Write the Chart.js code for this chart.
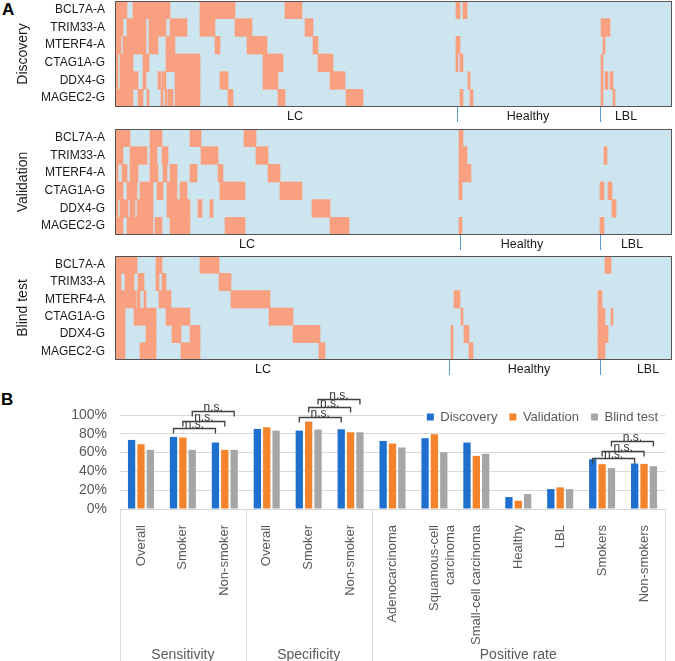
<!DOCTYPE html>
<html><head><meta charset="utf-8">
<script src="https://cdn.jsdelivr.net/npm/chart.js@4.4.1/dist/chart.umd.min.js"></script>
<style>
html,body{margin:0;padding:0;background:#fff;}
body{width:675px;height:661px;position:relative;overflow:hidden;font-family:"Liberation Sans",Arial,sans-serif;}
canvas{position:absolute;left:0;}
.panel{position:absolute;font-weight:bold;font-size:17px;line-height:17px;color:#000;}
</style></head><body>
<div class="panel" style="left:2px;top:1px">A</div>
<div class="panel" style="left:1px;top:391px">B</div>
<canvas id="h0" width="675" height="130" style="top:0"></canvas>
<canvas id="h1" width="675" height="130" style="top:125px"></canvas>
<canvas id="h2" width="675" height="130" style="top:250px"></canvas>
<canvas id="bars" width="675" height="286" style="top:375px"></canvas>
<script>
// ---------- Panel A data ----------
const genes = ['BCL7A-A', 'TRIM33-A', 'MTERF4-A', 'CTAG1A-G', 'DDX4-G', 'MAGEC2-G'];
const cohorts = ['Discovery', 'Validation', 'Blind test'];
const sampleGroups = ['LC', 'Healthy', 'LBL'];
const sampleCount = 557;
// positive (salmon) sample ranges per gene, in sample order
const discoveryPositive = [
  [[0,12],[18,55],[85,120],[170,187],[341,345],[348,352]],
  [[0,8],[12,31],[34,51],[55,72],[85,100],[120,137],[190,198],[486,495]],
  [[0,6],[8,31],[34,43],[51,60],[100,105],[132,152],[198,203],[341,345],[488,490]],
  [[0,3],[5,18],[28,34],[51,77],[77,85],[148,168],[203,218],[341,343],[345,348],[486,488]],
  [[0,3],[5,23],[28,31],[43,46],[47,51],[60,85],[105,113],[148,163],[215,230],[353,355],[486,488],[490,493],[495,498]],
  [[0,18],[23,28],[32,34],[46,48],[50,52],[53,58],[60,85],[113,118],[163,170],[231,248],[345,348],[355,358],[486,488],[498,500]]
];
const validationPositive = [
  [[0,15],[35,47],[75,86],[129,141],[344,348]],
  [[0,8],[15,32],[35,42],[47,53],[86,103],[141,153],[344,352],[489,492]],
  [[0,3],[7,12],[15,23],[35,43],[48,52],[55,62],[75,82],[103,108],[153,165],[344,356]],
  [[0,8],[12,22],[25,38],[42,48],[52,62],[65,72],[105,130],[165,187],[344,347],[485,489],[493,497]],
  [[0,3],[5,13],[15,20],[22,38],[52,75],[83,87],[95,98],[197,215],[497,501]],
  [[0,8],[12,38],[40,47],[55,75],[110,130],[215,234],[344,347],[485,489]]
];
const blindPositive = [
  [[0,22],[41,47],[85,104],[490,496]],
  [[0,6],[10,19],[23,29],[41,44],[47,51],[104,116]],
  [[0,21],[22,25],[29,31],[44,56],[116,155],[339,345],[483,487]],
  [[0,10],[19,41],[51,75],[154,178],[346,348],[483,490],[496,498]],
  [[0,10],[31,41],[57,66],[75,85],[178,205],[336,338],[349,354],[483,493]],
  [[0,10],[25,41],[66,85],[204,210],[336,338],[354,358],[483,490]]
];
// sample group boundaries (end of LC, end of Healthy, end of LBL)
const discoveryBounds = [342, 485, 557];
const validationBounds = [345, 485, 557];
const blindBounds = [334, 485, 557];
// where each group name sits along the sample axis
const discoveryLabelAt = [180, 413, 511];
const validationLabelAt = [132, 407, 517];
const blindLabelAt = [148, 414, 533];

// ---------- Panel B data ----------
const barCategories = ['Overall', 'Smoker', 'Non-smoker', 'Overall', 'Smoker', 'Non-smoker',
  'Adenocarcinoma', ['Squamous-cell', 'carcinoma'], 'Small-cell carcinoma', 'Healthy', 'LBL', 'Smokers', 'Non-smokers'];
const metricGroups = ['Sensitivity', 'Specificity', 'Positive rate'];
const metricGroupSizes = [3, 3, 7];
const seriesNames = ['Discovery', 'Validation', 'Blind test'];
const discoveryRates  = [73.5, 76.7, 70.7, 85.2, 83.4, 84.8, 72.4, 75.3, 70.7, 12.7, 21.2, 53.0, 48.4];
const validationRates = [68.9, 76.0, 62.9, 86.9, 92.9, 81.6, 69.6, 79.5, 56.5, 8.8, 23.0, 47.7, 48.0];
const blindRates      = [62.9, 62.9, 62.9, 83.4, 84.5, 81.6, 65.4, 60.4, 58.7, 15.9, 21.2, 43.5, 45.6];
const yTickValues = [0, 20, 40, 60, 80, 100];
// n.s. comparisons: [category A, series, category B, bracket height (%)]
const sigBrackets = [
  [1, 0, 2, 86], [1, 1, 2, 94], [1, 2, 2, 104],
  [4, 0, 5, 98], [4, 1, 5, 108], [4, 2, 5, 117],
  [11, 0, 12, 54], [11, 1, 12, 62], [11, 2, 12, 72]
];

// ---------- styles ----------
const FONT = '"Liberation Sans", Arial, sans-serif';
const SALMON = '#f8a07f';
const HEAT_BG = '#cde5ef';
const TICK_BLUE = '#5b9bd5';
const BLUE = '#1f6fcf', ORANGE = '#f5832b', GRAY = '#a6a6a6';
const TXT = '#595959';

const heatDecor = {
  id: 'heatDecor',
  beforeDatasetsDraw(chart) {
    const {ctx, chartArea: a} = chart;
    ctx.save();
    ctx.fillStyle = HEAT_BG;
    ctx.fillRect(a.left, a.top, a.right - a.left, a.bottom - a.top);
    ctx.restore();
  },
  afterDatasetsDraw(chart, args, opts) {
    const {ctx, chartArea: a} = chart;
    const x = chart.scales.x;
    ctx.save();
    ctx.strokeStyle = '#555';
    ctx.lineWidth = 1;
    ctx.strokeRect(a.left + 0.5, a.top + 0.5, a.right - a.left - 1, a.bottom - a.top - 1);
    ctx.strokeStyle = TICK_BLUE;
    opts.bounds.slice(0, -1).forEach(b => {
      const px = Math.round(x.getPixelForValue(b)) + 0.5;
      ctx.beginPath(); ctx.moveTo(px, a.bottom); ctx.lineTo(px, a.bottom + 15); ctx.stroke();
    });
    ctx.fillStyle = '#1a1a1a';
    ctx.font = '12.5px ' + FONT;
    ctx.textAlign = 'center'; ctx.textBaseline = 'middle';
    opts.groups.forEach((g, i) => ctx.fillText(g, x.getPixelForValue(opts.labelAt[i]), a.bottom + 10));
    ctx.restore();
  }
};

function heatmap(id, title, positive, bounds, labelAt, padTop, padBottom) {
  const data = [];
  positive.forEach((segs, r) => segs.forEach(s => data.push({y: genes[r], x: s})));
  return new Chart(document.getElementById(id), {
    type: 'bar',
    data: {labels: genes, datasets: [{data, backgroundColor: SALMON, borderWidth: 0,
      barPercentage: 1, categoryPercentage: 1}]},
    options: {
      indexAxis: 'y', responsive: false, animation: false,
      layout: {padding: {top: padTop, bottom: padBottom, right: 3, left: 0}},
      plugins: {legend: {display: false}, tooltip: {enabled: false},
        heatDecor: {bounds, labelAt, groups: sampleGroups}},
      scales: {
        x: {type: 'linear', min: 0, max: sampleCount, display: false},
        y: {type: 'category', grid: {display: false, drawTicks: false}, border: {display: false},
          ticks: {padding: 10, autoSkip: false, color: '#1a1a1a', font: {size: 12, family: FONT}},
          title: {display: true, text: title, color: '#1a1a1a', font: {size: 14, family: FONT}, padding: {top: 15, bottom: 0}},
          afterFit: s => { s.width = 115; s.paddingTop = 0; s.paddingBottom = 0; }}
      }
    },
    plugins: [heatDecor]
  });
}

heatmap('h0', cohorts[0], discoveryPositive, discoveryBounds, discoveryLabelAt, 1, 23);
heatmap('h1', cohorts[1], validationPositive, validationBounds, validationLabelAt, 4, 20);
heatmap('h2', cohorts[2], blindPositive, blindBounds, blindLabelAt, 6, 20);

const barDecor = {
  id: 'barDecor',
  afterLayout(chart) {
    const lg = chart.legend;
    if (lg) { lg.top += 18.5; lg.bottom += 18.5; lg.left += 5; lg.right += 5; }
  },
  beforeDatasetsDraw(chart) {
    const lg = chart.legend;
    if (lg && lg.legendHitBoxes && lg.legendHitBoxes.length) {
      const hb = lg.legendHitBoxes;
      const ctx = chart.ctx;
      ctx.save();
      ctx.fillStyle = '#fff';
      const l = hb[0].left - 3, r = hb[hb.length - 1].left + hb[hb.length - 1].width + 3;
      ctx.fillRect(l, hb[0].top - 1, r - l, hb[0].height + 2);
      ctx.restore();
      lg.draw();
    }
  },
  afterDraw(chart) {
    const {ctx, chartArea: a} = chart;
    const x = chart.scales.x, y = chart.scales.y;
    const half = (x.getPixelForValue(1) - x.getPixelForValue(0)) / 2;
    ctx.save();
    // group separators
    ctx.strokeStyle = '#d9d9d9'; ctx.lineWidth = 1;
    let idx = 0;
    const edges = [0];
    metricGroupSizes.forEach(n => { idx += n; edges.push(idx); });
    edges.forEach(e => {
      const px = Math.round(x.getPixelForValue(e) - half) + 0.5;
      ctx.beginPath(); ctx.moveTo(px, a.bottom); ctx.lineTo(px, chart.height); ctx.stroke();
    });
    // group labels
    ctx.fillStyle = TXT; ctx.font = '14px ' + FONT; ctx.textAlign = 'center'; ctx.textBaseline = 'middle';
    metricGroups.forEach((g, i) => {
      const c = (x.getPixelForValue(edges[i]) + x.getPixelForValue(edges[i + 1])) / 2 - half;
      ctx.fillText(g, c, a.bottom + 146);
    });
    // n.s. brackets
    ctx.strokeStyle = '#404040'; ctx.lineWidth = 1.3; ctx.fillStyle = '#333';
    ctx.font = '12px ' + FONT; ctx.textBaseline = 'alphabetic';
    sigBrackets.forEach(([c1, ds, c2, v]) => {
      const meta = chart.getDatasetMeta(ds);
      const x1 = meta.data[c1].x, x2 = meta.data[c2].x;
      const py = Math.round(y.getPixelForValue(v)) + 0.5;
      ctx.beginPath(); ctx.moveTo(x1, py + 5); ctx.lineTo(x1, py); ctx.lineTo(x2, py); ctx.lineTo(x2, py + 5); ctx.stroke();
      ctx.fillText('n.s.', (x1 + x2) / 2, py - 1);
    });
    ctx.restore();
  }
};

new Chart(document.getElementById('bars'), {
  type: 'bar',
  data: {labels: barCategories, datasets: [
    {label: seriesNames[0], data: discoveryRates, backgroundColor: BLUE},
    {label: seriesNames[1], data: validationRates, backgroundColor: ORANGE},
    {label: seriesNames[2], data: blindRates, backgroundColor: GRAY}
  ]},
  options: {
    responsive: false, animation: false,
    datasets: {bar: {categoryPercentage: 0.67, barPercentage: 0.78}},
    layout: {padding: {top: 5, right: 10, left: 0, bottom: 0}},
    plugins: {
      legend: {position: 'top', align: 'end',
        labels: {boxWidth: 7, boxHeight: 7, padding: 12, color: TXT, font: {size: 13, family: FONT}}},
      tooltip: {enabled: false}
    },
    scales: {
      y: {min: 0, max: 100,
        afterBuildTicks: s => { s.ticks = yTickValues.map(v => ({value: v})); },
        ticks: {autoSkip: false, callback: v => v + '%', color: TXT, font: {size: 14, family: FONT}, padding: 13},
        grid: {color: '#d9d9d9', drawTicks: false}, border: {display: false},
        afterFit: s => { s.width = 120; s.paddingTop = 0; s.paddingBottom = 0; }},
      x: {grid: {display: false}, border: {display: false},
        ticks: {maxRotation: 90, minRotation: 90, autoSkip: false, color: TXT, font: {size: 13, family: FONT}, padding: 8},
        afterFit: s => { s.height = 152; }}
    }
  },
  plugins: [barDecor]
});
</script>
</body></html>
